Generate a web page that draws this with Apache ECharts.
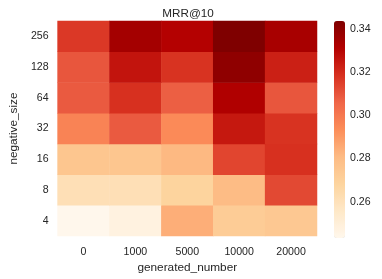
<!DOCTYPE html>
<html><head><meta charset="utf-8">
<script src="https://cdn.jsdelivr.net/npm/echarts@6/dist/echarts.min.js"></script>
<style>html,body{margin:0;padding:0;background:#fff}#c{width:382px;height:279px}</style>
</head><body><div id="c"></div>
<script>
const xCats = ['0', '1000', '5000', '10000', '20000'];
const yCats = ['4', '8', '16', '32', '64', '128', '256'];
// rows from bottom (4) to top (256)
const row4   = [0.2431, 0.2472, 0.2844, 0.2723, 0.2743];
const row8   = [0.2612, 0.2612, 0.2683, 0.2804, 0.3127];
const row16  = [0.2754, 0.2754, 0.2814, 0.3137, 0.3187];
const row32  = [0.2965, 0.3086, 0.2945, 0.3250, 0.3180];
const row64  = [0.3086, 0.3187, 0.3076, 0.3320, 0.3096];
const row128 = [0.3096, 0.3260, 0.3180, 0.3400, 0.3228];
const row256 = [0.3167, 0.3350, 0.3310, 0.3439, 0.3340];
const colorTicks = [0.26, 0.28, 0.30, 0.32, 0.34];
const vMin = 0.2431, vMax = 0.3439;

const rows = [row4, row8, row16, row32, row64, row128, row256];
const data = [];
rows.forEach((r, yi) => r.forEach((v, xi) => data.push([xi, yi, v])));

const txt = '#262626';
const font = 'Liberation Sans, Arial, sans-serif';
const chart = echarts.init(document.getElementById('c'), null, {renderer: 'canvas'});
chart.setOption({
  animation: false,
  backgroundColor: '#fff',
  textStyle: {fontFamily: font, color: txt},
  title: {text: 'MRR@10', left: 183, textAlign: 'center', top: 3,
    textStyle: {fontSize: 11.7, fontWeight: 'normal', color: txt, fontFamily: font}},
  grid: [
    {left: 49, right: 65, top: 21, bottom: 41, containLabel: false},
    {left: 334, width: 11, top: 21, height: 217, containLabel: false}
  ],
  xAxis: [
    {type: 'category', data: xCats, gridIndex: 0,
     name: 'generated_number', nameLocation: 'middle', nameGap: 23,
     nameTextStyle: {fontSize: 11.8, color: txt, fontFamily: font},
     axisLine: {show: false}, axisTick: {show: false}, splitLine: {show: false},
     axisLabel: {fontSize: 10.6, color: txt, margin: 10, fontFamily: font}},
    {type: 'value', gridIndex: 1, show: false, min: 0, max: 1}
  ],
  yAxis: [
    {type: 'category', data: yCats, gridIndex: 0,
     name: 'negative_size', nameLocation: 'middle', nameGap: 33,
     nameTextStyle: {fontSize: 11.8, color: txt, fontFamily: font},
     axisLine: {show: false}, axisTick: {show: false}, splitLine: {show: false},
     axisLabel: {fontSize: 10.6, color: txt, margin: 9, fontFamily: font}},
    {type: 'value', gridIndex: 1, position: 'right', min: vMin, max: vMax,
     axisLine: {show: false}, splitLine: {show: false},
     axisTick: {show: true, length: 3.5, customValues: colorTicks, lineStyle: {color: txt, width: 1}},
     axisLabel: {show: true, customValues: colorTicks, margin: 5, fontSize: 10.6, color: txt, fontFamily: font,
       formatter: v => v.toFixed(2)}}
  ],
  visualMap: {
    type: 'continuous', min: vMin, max: vMax, seriesIndex: 0,
    calculable: false, realtime: false, left: 334, top: 21, padding: 0,
    itemWidth: 11, itemHeight: 217, text: ['', ''], showLabel: false,
    inRange: {color: ['#fff7ec', '#fee8c8', '#fdd49e', '#fdbb84', '#fc8d59', '#ef6548', '#d7301f', '#b30000', '#7f0000']}
  },
  series: [
    {type: 'heatmap', data: data, xAxisIndex: 0, yAxisIndex: 0,
     itemStyle: {borderWidth: 0}, emphasis: {disabled: true}},
    {type: 'scatter', xAxisIndex: 1, yAxisIndex: 1, data: [], silent: true}
  ]
});
</script></body></html>
